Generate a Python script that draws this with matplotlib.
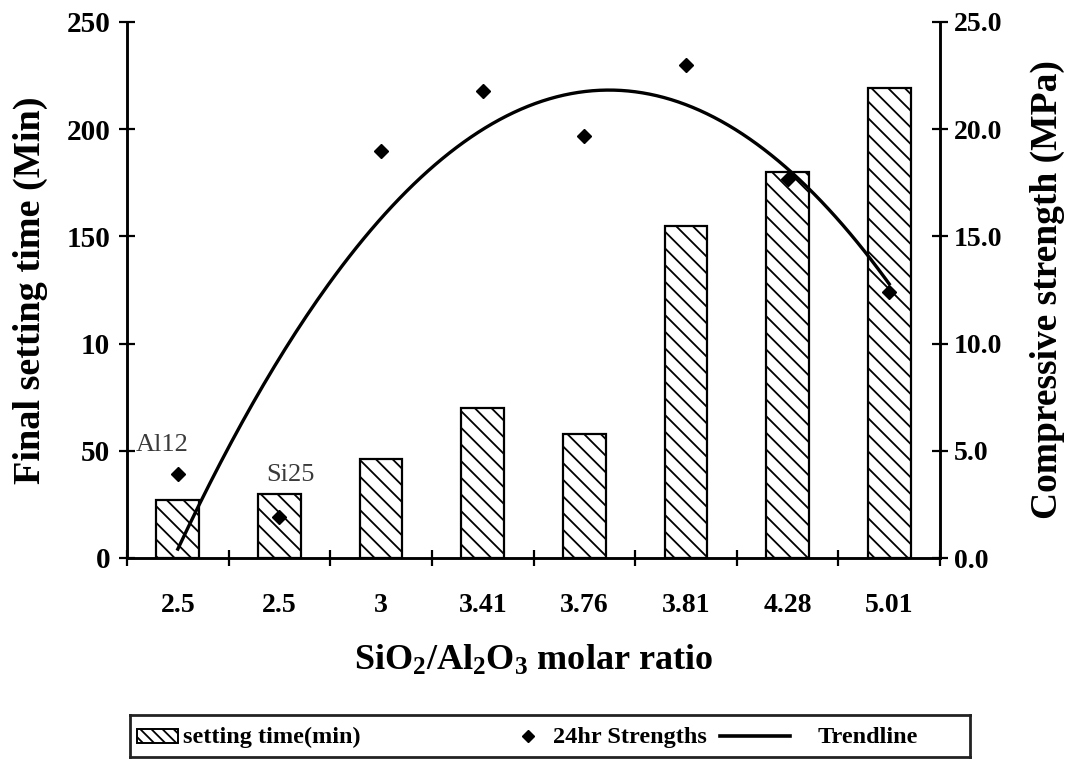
import numpy as np
import matplotlib
matplotlib.use("Agg")
import matplotlib.pyplot as plt
from matplotlib.patches import Rectangle
from matplotlib.lines import Line2D

# Data
ratio_labels = ["2.5", "2.5", "3", "3.41", "3.76", "3.81", "4.28", "5.01"]
setting_time = [27, 30, 46, 70, 58, 155, 180, 219]              # min
strength_24h = [3.9, 1.9, 19.0, 21.8, 19.7, 23.0, 17.7, 12.4]   # MPa
left_ticks = [0, 50, 100, 150, 200, 250]
left_tick_labels = ["0", "50", "10", "150", "200", "250"]
right_ticks = [0, 5, 10, 15, 20, 25]
note_texts = ["Al12", "Si25"]
note_x = [-0.15, 1.11]
note_y = [49.8, 36.0]
legend_labels = ["setting time(min)", "24hr Strengths", "Trendline"]

plt.rcParams["font.family"] = ["Liberation Serif", "DejaVu Serif"]
plt.rcParams["font.weight"] = "bold"
plt.rcParams["axes.labelweight"] = "bold"
plt.rcParams["mathtext.fontset"] = "custom"
plt.rcParams["mathtext.rm"] = "Liberation Serif:bold"
plt.rcParams["mathtext.it"] = "Liberation Serif:bold"
plt.rcParams["mathtext.bf"] = "Liberation Serif:bold"
plt.rcParams["mathtext.default"] = "bf"
plt.rcParams["hatch.linewidth"] = 1.3

W, H = 1070, 759
fig = plt.figure(figsize=(W / 100, H / 100), dpi=100)
ax = fig.add_axes([127 / W, 1 - 558 / H, (940 - 127) / W, (558 - 22) / H])
ax2 = ax.twinx()

x = np.arange(len(ratio_labels))

# Setting time bars
ax.bar(x, setting_time, width=0.42, facecolor="white", edgecolor="black",
       linewidth=1.6, hatch="\\\\", zorder=2)

# Strength points and second-order trendline
ax2.plot(x, strength_24h, linestyle="none", marker="D", markersize=7,
         color="black", zorder=4)
coef = np.polyfit(x, strength_24h, 2)
xs = np.linspace(x[0], x[-1], 200)
ax2.plot(xs, np.polyval(coef, xs), color="black", linewidth=2.4, zorder=3)

for txt, xi, yi in zip(note_texts, note_x, note_y):
    ax.text(xi, yi, txt, ha="center", va="baseline",
            fontsize=19, fontweight="normal", color="#3a3a3a")

# Axes styling
ax.set_xlim(-0.5, len(x) - 0.5)
ax.set_ylim(0, 250)
ax2.set_ylim(0, 25)
ax.set_yticks(left_ticks)
ax.set_yticklabels(left_tick_labels)
ax2.set_yticks(right_ticks)
ax2.set_yticklabels([f"{v:.1f}" for v in right_ticks])

ax.set_xticks(x)
ax.set_xticklabels(ratio_labels)
ax.set_xticks(np.arange(len(x) + 1) - 0.5, minor=True)
ax.tick_params(axis="x", which="major", length=0, pad=25, labelsize=20)
ax.tick_params(axis="x", which="minor", direction="inout", length=12, width=1.6)
ax.tick_params(axis="y", direction="inout", length=12, width=1.6, labelsize=21, pad=6)
ax2.tick_params(axis="y", direction="inout", length=12, width=1.6, labelsize=20, pad=4)

for a in (ax, ax2):
    a.spines["top"].set_visible(False)
    for s in ("left", "right", "bottom"):
        a.spines[s].set_linewidth(1.8)

ax.set_ylabel("Final setting time (Min)", fontsize=27.5)
ax.yaxis.set_label_coords(-0.097, 0.5)
ax2.set_ylabel("Compressive strength (MPa)", fontsize=27, labelpad=20)
ax.set_xlabel("SiO$_2$/Al$_2$O$_3$ molar ratio", fontsize=26, labelpad=19)

# Legend box below the plot
lx0, lx1, ly0, ly1 = 130, 970, 715, 757
lax = fig.add_axes([lx0 / W, 1 - ly1 / H, (lx1 - lx0) / W, (ly1 - ly0) / H])
lax.set_xlim(lx0, lx1)
lax.set_ylim(ly1, ly0)
lax.set_xticks([])
lax.set_yticks([])
for s in lax.spines.values():
    s.set_linewidth(2)
    s.set_edgecolor("#222222")
yc = (ly0 + ly1) / 2
lax.add_patch(Rectangle((137, yc - 7), 41, 14, facecolor="white", edgecolor="black",
                        hatch="\\\\\\", linewidth=1.4))
lax.add_line(Line2D([528], [yc], linestyle="none", marker="D", markersize=6, color="black"))
lax.add_line(Line2D([720, 790], [yc, yc], color="black", linewidth=2.6))
for txt, tx in zip(legend_labels, [183, 553, 818]):
    lax.text(tx, yc + 1, txt, ha="left", va="center", fontsize=17.5)

fig.savefig("out.png", dpi=100)
